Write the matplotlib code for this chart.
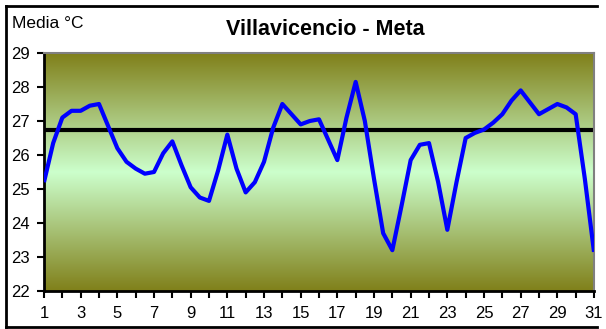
import numpy as np
import matplotlib
matplotlib.use('Agg')
import matplotlib.pyplot as plt
from matplotlib.colors import LinearSegmentedColormap

plt.rcParams['font.family'] = ['Liberation Sans', 'DejaVu Sans']

# daily mean temperature, read every half day
dias = [1 + 0.5 * i for i in range(61)]
media = [25.2, 26.35, 27.1, 27.3, 27.3, 27.45, 27.5, 26.85, 26.2, 25.8,
         25.6, 25.45, 25.5, 26.05, 26.4, 25.7, 25.05, 24.75, 24.65, 25.55,
         26.6, 25.6, 24.9, 25.2, 25.8, 26.8, 27.5, 27.2, 26.9, 27.0,
         27.05, 26.45, 25.85, 27.1, 28.15, 27.0, 25.3, 23.7, 23.2, 24.5,
         25.85, 26.3, 26.35, 25.2, 23.8, 25.2, 26.5, 26.65, 26.75, 26.95,
         27.2, 27.6, 27.9, 27.55, 27.2, 27.35, 27.5, 27.4, 27.2, 25.3,
         23.15]
promedio = 26.75

xlabels = list(range(1, 32, 2))
yticks = list(range(22, 30))

fig = plt.figure(figsize=(6.06, 3.29), dpi=100)
ax = fig.add_axes([0.0726, 0.1155, 0.9076, 0.7234])

# olive -> light green -> olive background
cmap = LinearSegmentedColormap.from_list('fondo', ['#80801a', '#ccffcc', '#80801a'])
grad = np.linspace(0, 1, 256).reshape(-1, 1)
ax.imshow(grad, aspect='auto', cmap=cmap, extent=[1, 31, 22, 29],
          origin='upper', zorder=0, interpolation='bilinear')

ax.plot(dias, media, color='#0000ff', lw=3, solid_joinstyle='round',
        solid_capstyle='butt', zorder=3)
ax.axhline(promedio, color='black', lw=3, zorder=2)

ax.set_xlim(1, 31)
ax.set_ylim(22, 29)
ax.set_xticks(range(1, 32))
ax.set_xticklabels([str(d) if d in xlabels else '' for d in range(1, 32)])
ax.set_yticks(yticks)
ax.tick_params(axis='both', direction='out', length=5, width=1.5,
               labelsize=12, colors='black')
ax.tick_params(axis='y', pad=5)
ax.tick_params(axis='x', pad=6)

for s in ['left', 'bottom']:
    ax.spines[s].set_linewidth(2)
    ax.spines[s].set_color('black')
for s in ['top', 'right']:
    ax.spines[s].set_linewidth(1.5)
    ax.spines[s].set_color('#808080')

fig.text(0.536, 0.894, 'Villavicencio - Meta', ha='center', va='baseline',
         fontsize=15.5, fontweight='bold')
fig.text(0.02, 0.915, 'Media °C', ha='left', va='baseline', fontsize=12.5)

# chart frame
for xs, ys in [([0.01, 0.985], [0.982, 0.982]), ([0.01, 0.01], [0.982, 0.006]),
               ([0.01, 0.985], [0.006, 0.006])]:
    fig.add_artist(plt.Line2D(xs, ys, color='black', lw=2))

fig.savefig('out.png', dpi=100)
